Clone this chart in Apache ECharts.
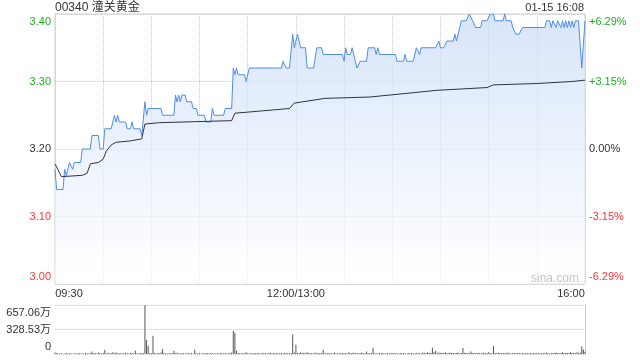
<!DOCTYPE html>
<html><head><meta charset="utf-8">
<script src="https://cdn.jsdelivr.net/npm/echarts@6/dist/echarts.min.js"></script>
<style>html,body{margin:0;padding:0;background:#fff}#c{width:640px;height:360px}</style>
</head><body><div id="c"></div>
<script>
const titleText = '00340 潼关黄金';
const timeText = '01-15 16:08';
const watermark = 'sina.com';
const timeLabels = {0:'09:30', 150:'12:00/13:00', 330:'16:00'};
const prevClose = 3.20;
const pctLabels = ['-6.29%','-3.15%','0.00%','+3.15%','+6.29%'];
const volLabels = ['0','328.53万','657.06万'];

// price vertices: trading minutes since 09:30 and price
const priceMinutes = [0,1,5,6,7,8,9,10,11,12,16,17,22,23,27,28,30,31,35,37,38,39,40,44,45,47,48,49,53,54,55,56,57,58,66,67,74,75,76,77,78,79,81,82,85,86,88,89,93,94,97,98,99,105,106,110,111,112,113,114,118,119,121,141,142,143,144,146,148,149,151,152,153,156,157,161,163,166,167,179,180,181,182,184,185,186,187,188,189,190,194,195,199,200,201,202,212,213,217,218,219,223,225,226,227,228,237,239,240,242,244,248,249,250,251,252,253,256,258,260,261,262,265,266,269,271,273,274,279,280,281,284,285,287,289,291,305,306,308,309,310,312,313,314,315,316,317,318,319,320,321,322,323,324,326,328,330];
const priceValues = [3.17,3.14,3.14,3.17,3.16,3.17,3.18,3.18,3.17,3.18,3.18,3.20,3.20,3.22,3.22,3.20,3.20,3.23,3.23,3.25,3.24,3.25,3.24,3.24,3.23,3.23,3.24,3.23,3.23,3.22,3.22,3.27,3.25,3.26,3.26,3.25,3.25,3.28,3.27,3.28,3.27,3.28,3.28,3.27,3.27,3.26,3.26,3.25,3.25,3.24,3.24,3.26,3.25,3.25,3.26,3.26,3.32,3.31,3.32,3.31,3.31,3.30,3.32,3.32,3.33,3.33,3.32,3.32,3.37,3.35,3.37,3.37,3.35,3.35,3.32,3.32,3.35,3.35,3.34,3.34,3.33,3.35,3.34,3.34,3.35,3.34,3.34,3.32,3.32,3.33,3.33,3.35,3.35,3.34,3.35,3.34,3.34,3.33,3.33,3.34,3.33,3.33,3.35,3.35,3.34,3.35,3.35,3.36,3.35,3.35,3.36,3.36,3.37,3.36,3.37,3.38,3.39,3.39,3.40,3.39,3.39,3.38,3.38,3.39,3.39,3.40,3.40,3.39,3.39,3.40,3.39,3.39,3.38,3.37,3.37,3.38,3.38,3.39,3.39,3.38,3.39,3.38,3.39,3.39,3.38,3.39,3.38,3.39,3.38,3.39,3.38,3.39,3.38,3.39,3.39,3.32,3.39];

// average price line vertices
const avgMinutes = [0,4,17,20,22,27,30,32,35,38,47,54,56,65,80,110,112,146,149,168,196,213,238,269,273,300,322,330];
const avgValues = [3.178,3.159,3.161,3.164,3.178,3.180,3.185,3.197,3.206,3.210,3.212,3.215,3.237,3.239,3.240,3.242,3.253,3.260,3.268,3.275,3.277,3.281,3.287,3.291,3.295,3.297,3.300,3.302];

// volume per minute (万)
const volumes = [
20,12,8,6,10,5,8,12,6,9,
7,5,10,6,8,12,6,9,5,14,
10,8,12,35,9,15,7,20,12,8,
14,58,10,18,8,12,25,9,20,15,
8,12,6,10,18,9,7,12,15,8,
45,10,8,14,9,12,657.06,188,110,15,
10,245,12,8,15,9,20,67,12,10,
8,15,10,12,45,9,18,10,8,12,
9,6,10,14,8,12,7,58,10,8,
12,6,9,8,15,10,7,12,9,6,
8,10,6,12,9,7,14,8,10,12,
20,312,286,45,15,10,8,12,9,25,
10,8,14,7,12,9,15,10,8,12,
9,14,7,10,20,8,12,9,15,7,
10,12,8,18,9,14,10,15,260,20,
125,15,10,22,12,18,9,25,14,10,
12,8,20,10,15,9,12,58,10,8,
14,9,12,7,20,10,8,15,9,12,
10,14,8,22,9,12,18,10,15,8,
12,20,9,14,35,10,15,12,85,9,
10,8,12,9,15,7,10,12,8,14,
9,12,7,10,8,15,9,12,10,8,
12,9,14,8,10,15,9,12,8,20,
15,10,22,12,18,85,25,45,15,20,
12,18,10,25,14,9,20,12,15,10,
14,20,9,15,80,12,18,10,14,35,
12,9,15,10,18,8,12,20,10,14,
25,12,10,107,14,9,18,12,10,15,
9,12,20,10,8,15,12,9,10,14,
8,12,10,9,15,8,12,10,14,9,
12,10,8,15,9,12,20,10,8,12,
15,10,20,12,9,14,25,10,18,12,
15,22,12,18,10,25,15,20,100,60,
30];

const FONT = 'Arial, "Liberation Sans", "Noto Sans CJK SC", sans-serif';
const GREEN = '#1fae1f', RED = '#f33', DARK = '#333';
const EPS = 1e-6;

const chart = echarts.init(document.getElementById('c'), null, {renderer:'canvas'});

function edgeKey(v, min, max){ if (Math.abs(v-max)<EPS) return 'T'; if (Math.abs(v-min)<EPS) return 'B'; return ''; }
function mkRich(colors){
  const r = {};
  for (const [k,c] of Object.entries(colors)){
    r[k] = {color:c, fontSize:11, fontFamily:FONT};
    r[k+'T'] = {color:c, fontSize:11, fontFamily:FONT, padding:[15,0,0,0]};
    r[k+'B'] = {color:c, fontSize:11, fontFamily:FONT, padding:[0,0,15,0]};
  }
  return r;
}
const richC = mkRich({g:GREEN, r:RED, k:DARK});

const priceData = priceMinutes.map((t,i)=>[t, priceValues[i]]);
const avgData = avgMinutes.map((t,i)=>[t, avgValues[i]]);
const volData = volumes.map((v,i)=>[i, v]);

const option = {
  animation:false,
  textStyle:{fontFamily:FONT},
  title:[
    {text:titleText, left:55, top:2, padding:0, textStyle:{fontSize:12, fontWeight:'normal', color:DARK, fontFamily:FONT}},
    {text:timeText, right:56, top:2, padding:0, textStyle:{fontSize:11, fontWeight:'normal', color:DARK, fontFamily:FONT}}
  ],
  grid:[
    {left:55, top:14, width:530, height:270, show:true, borderColor:'#ccc', borderWidth:1},
    {left:55, top:305, width:530, height:49}
  ],
  xAxis:[
    {gridIndex:0, type:'value', min:0, max:330, interval:30,
     axisLine:{show:false}, axisTick:{show:false},
     splitLine:{show:true, lineStyle:{color:'#ccc', type:'dotted', width:1}},
     axisLabel:{margin:4, color:DARK, fontSize:11, fontFamily:FONT,
       formatter:(v)=>{ const s = timeLabels[Math.round(v)]; if(!s) return ''; if (Math.round(v)===0) return '{l|'+s+'}'; if (Math.round(v)===330) return '{r|'+s+'}'; return s; },
       rich:{l:{padding:[0,0,0,28], fontSize:11, color:DARK, fontFamily:FONT}, r:{padding:[0,28,0,0], fontSize:11, color:DARK, fontFamily:FONT}}}
    },
    {gridIndex:1, type:'value', min:0, max:330, show:false}
  ],
  yAxis:[
    {gridIndex:0, type:'value', min:3.0, max:3.4, interval:0.1, position:'left',
     axisLine:{show:false}, axisTick:{show:false},
     splitLine:{show:true, lineStyle:{color:'#ccc', type:'dotted', width:1}},
     axisLabel:{margin:4, formatter:(v)=>{ const c = v>prevClose+EPS?'g':(v<prevClose-EPS?'r':'k'); return '{'+c+edgeKey(v,3.0,3.4)+'|'+v.toFixed(2)+'}'; }, rich:richC}
    },
    {gridIndex:0, type:'value', min:3.0, max:3.4, interval:0.1, position:'right',
     axisLine:{show:false}, axisTick:{show:false}, splitLine:{show:false},
     axisLabel:{margin:4, formatter:(v)=>{ const idx = Math.round((v-3.0)/0.1); const c = v>prevClose+EPS?'g':(v<prevClose-EPS?'r':'k'); return '{'+c+edgeKey(v,3.0,3.4)+'|'+pctLabels[idx]+'}'; }, rich:richC}
    },
    {gridIndex:1, type:'value', min:0, max:657.06, interval:328.53, position:'left',
     axisLine:{show:false}, axisTick:{show:false},
     splitLine:{show:true, lineStyle:{color:'#ccc', type:'dotted', width:1}},
     axisLabel:{margin:4, formatter:(v)=>{ const idx = Math.round(v/328.53); return '{k'+edgeKey(v,0,657.06)+'|'+volLabels[idx]+'}'; }, rich:richC}
    },
    {gridIndex:1, type:'value', min:0, max:657.06, interval:328.53, position:'right',
     axisLine:{show:true, lineStyle:{color:'#ccc'}}, axisTick:{show:false}, axisLabel:{show:false}, splitLine:{show:false}}
  ],
  graphic:[
    {type:'text', left:531, top:273, z:10, style:{text:watermark, fill:'#c4c4c4', font:'12px '+FONT}}
  ],
  series:[
    {type:'line', xAxisIndex:0, yAxisIndex:0, data:priceData, symbol:'none', z:3,
     lineStyle:{color:'#4f8ee8', width:1},
     areaStyle:{origin:'start', color:new echarts.graphic.LinearGradient(0,14,0,284,[{offset:0,color:'#c6d9f6'},{offset:1,color:'#ffffff'}], true)}
    },
    {type:'line', xAxisIndex:0, yAxisIndex:0, data:avgData, symbol:'none', z:4,
     lineStyle:{color:'#2d3440', width:1}},
    {type:'bar', xAxisIndex:1, yAxisIndex:2, data:volData, barWidth:1, itemStyle:{color:'#555'}}
  ]
};
chart.setOption(option);
</script></body></html>
